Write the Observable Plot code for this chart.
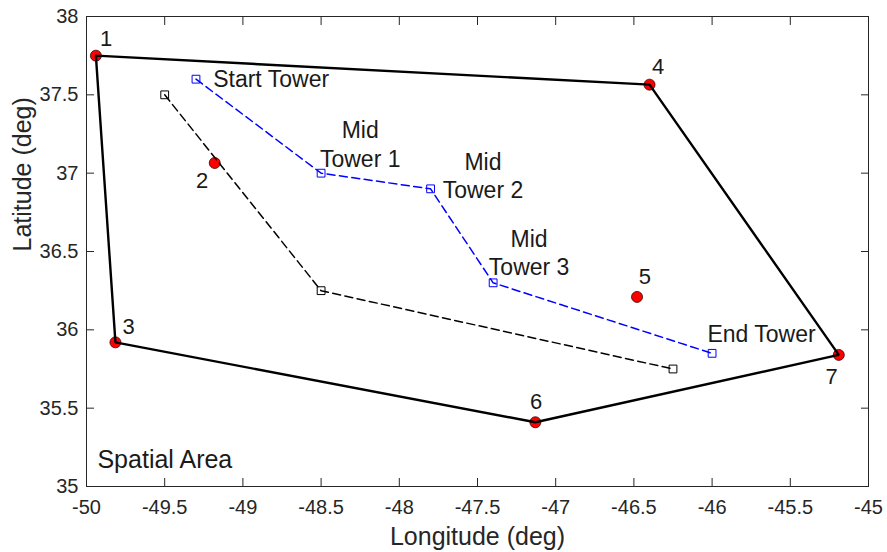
<!DOCTYPE html>
<html>
<head>
<meta charset="utf-8">
<script src="https://cdn.jsdelivr.net/npm/d3@7"></script>
<script src="https://cdn.jsdelivr.net/npm/@observablehq/plot@0.6"></script>
<style>
  html, body { margin: 0; padding: 0; background: #fff; }
  #chart { width: 887px; height: 552px; }
</style>
</head>
<body>
<div id="chart"></div>
<script>
// ---- Axis ticks ----
const X_TICKS = [-50, -49.5, -49, -48.5, -48, -47.5, -47, -46.5, -46, -45.5, -45];
const X_TICK_LABELS = ["-50", "-49.5", "-49", "-48.5", "-48", "-47.5", "-47", "-46.5", "-46", "-45.5", "-45"];
const Y_TICKS = [35, 35.5, 36, 36.5, 37, 37.5, 38];
const Y_TICK_LABELS = ["35", "35.5", "36", "36.5", "37", "37.5", "38"];
const X_LABEL = "Longitude (deg)";
const Y_LABEL = "Latitude (deg)";

// ---- Spatial area vertices ----
const VERTEX_IDS = [1, 2, 3, 4, 5, 6, 7];
const VERTEX_LON = [-49.94, -49.18, -49.815, -46.40, -46.48, -47.13, -45.19];
const VERTEX_LAT = [37.75, 37.065, 35.92, 37.565, 36.21, 35.41, 35.84];
// text positions of the vertex numbers (data coords)
const VERTEX_LABEL_LON = [-49.875, -49.26, -49.73, -46.345, -46.43, -47.125, -45.235];
const VERTEX_LABEL_LAT = [37.855, 36.95, 36.02, 37.68, 36.34, 35.54, 35.70];
// boundary polygon order
const BOUNDARY_ORDER = [1, 4, 7, 6, 3, 1];

// ---- Tower path (blue) ----
const TOWER_LON = [-49.3, -48.5, -47.8, -47.4, -46.0];
const TOWER_LAT = [37.6, 37.0, 36.9, 36.3, 35.85];
const TOWER_NAMES = ["Start Tower", "Mid\nTower 1", "Mid\nTower 2", "Mid\nTower 3", "End Tower"];
const TOWER_LABEL_LON = [-49.19, -48.25, -47.465, -47.17, -46.03];
const TOWER_LABEL_LAT = [37.597, 37.19, 36.99, 36.495, 35.967];
const TOWER_LABEL_ANCHOR = ["start", "middle", "middle", "middle", "start"];

// ---- Alternative path (black dashed) ----
const ALT_LON = [-49.5, -48.5, -46.25];
const ALT_LAT = [37.5, 36.25, 35.75];

// ---- Area caption ----
const AREA_LABEL = "Spatial Area";
const AREA_LABEL_LON = -49.93;
const AREA_LABEL_LAT = 35.17;

// Build tables
const vertices = VERTEX_IDS.map((id, i) => ({id, lon: VERTEX_LON[i], lat: VERTEX_LAT[i],
  llon: VERTEX_LABEL_LON[i], llat: VERTEX_LABEL_LAT[i]}));
const boundary = BOUNDARY_ORDER.map(id => vertices[VERTEX_IDS.indexOf(id)]);
const towers = TOWER_LON.map((lon, i) => ({lon, lat: TOWER_LAT[i], name: TOWER_NAMES[i],
  llon: TOWER_LABEL_LON[i], llat: TOWER_LABEL_LAT[i], anchor: TOWER_LABEL_ANCHOR[i]}));
const alt = ALT_LON.map((lon, i) => ({lon, lat: ALT_LAT[i]}));

const AXIS_COLOR = "#262626";
const FONT = "'Liberation Sans', Arial, Helvetica, sans-serif";

const chart = Plot.plot({
  width: 887,
  height: 552,
  marginLeft: 86,
  marginRight: 19,
  marginTop: 16,
  marginBottom: 66,
  x: {domain: [-50, -45]},
  y: {domain: [35, 38]},
  style: {fontFamily: FONT, background: "#fff", color: AXIS_COLOR, overflow: "visible"},
  marks: [
    // tick labels
    Plot.axisX({ticks: X_TICKS, anchor: "bottom", tickSize: 0, tickPadding: 13,
      tickFormat: (d) => X_TICK_LABELS[X_TICKS.indexOf(d)], fontSize: 20, label: null, fill: AXIS_COLOR}),
    Plot.axisY({ticks: Y_TICKS, anchor: "left", tickSize: 0, tickPadding: 8,
      tickFormat: (d) => Y_TICK_LABELS[Y_TICKS.indexOf(d)], fontSize: 20, label: null, fill: AXIS_COLOR}),
    // inward ticks on all four sides
    Plot.axisX({ticks: X_TICKS, anchor: "bottom", tickSize: 8, dy: -8, tickFormat: () => "", label: null, stroke: AXIS_COLOR}),
    Plot.axisX({ticks: X_TICKS, anchor: "top", tickSize: 8, dy: 8, tickFormat: () => "", label: null, stroke: AXIS_COLOR}),
    Plot.axisY({ticks: Y_TICKS, anchor: "left", tickSize: 8, dx: 8, tickFormat: () => "", label: null, stroke: AXIS_COLOR}),
    Plot.axisY({ticks: Y_TICKS, anchor: "right", tickSize: 8, dx: -8, tickFormat: () => "", label: null, stroke: AXIS_COLOR}),
    Plot.frame({stroke: AXIS_COLOR, strokeWidth: 1}),
    // axis titles
    Plot.text([X_LABEL], {frameAnchor: "bottom", dy: 58, text: d => d, fontSize: 25, fill: AXIS_COLOR}),
    Plot.text([Y_LABEL], {frameAnchor: "left", dx: -64, rotate: -90, text: d => d, fontSize: 25, fill: AXIS_COLOR}),
    // red vertex dots
    Plot.dot(vertices, {x: "lon", y: "lat", r: 5.5, fill: "#ff0000", stroke: "#3a0000", strokeWidth: 0.8}),
    // boundary polygon
    Plot.line(boundary, {x: "lon", y: "lat", stroke: "#000", strokeWidth: 2.4, strokeLinejoin: "miter"}),
    // black dashed path
    Plot.line(alt, {x: "lon", y: "lat", stroke: "#000", strokeWidth: 1.5, strokeDasharray: "8,4.5"}),
    Plot.dot(alt, {x: "lon", y: "lat", symbol: "square", r: 4.4, fill: "none", stroke: "#000", strokeWidth: 1}),
    // blue dashed tower path
    Plot.line(towers, {x: "lon", y: "lat", stroke: "#0000ff", strokeWidth: 1.5, strokeDasharray: "8,4.5"}),
    Plot.dot(towers, {x: "lon", y: "lat", symbol: "square", r: 4.4, fill: "none", stroke: "#0000ff", strokeWidth: 1}),
    // labels
    Plot.text(vertices, {x: "llon", y: "llat", text: d => String(d.id), fontSize: 22, fill: "#1a1a1a"}),
    Plot.text(towers.filter(d => d.anchor === "start"), {x: "llon", y: "llat", text: "name", textAnchor: "start", fontSize: 23, fill: "#1a1a1a"}),
    Plot.text(towers.filter(d => d.anchor === "middle"), {x: "llon", y: "llat", text: "name", textAnchor: "middle", lineHeight: 1.23, fontSize: 23, fill: "#1a1a1a"}),
    Plot.text([AREA_LABEL], {x: () => AREA_LABEL_LON, y: () => AREA_LABEL_LAT, text: d => d, textAnchor: "start", fontSize: 25, fill: "#1a1a1a"})
  ]
});
document.getElementById("chart").appendChild(chart);
</script>
</body>
</html>
